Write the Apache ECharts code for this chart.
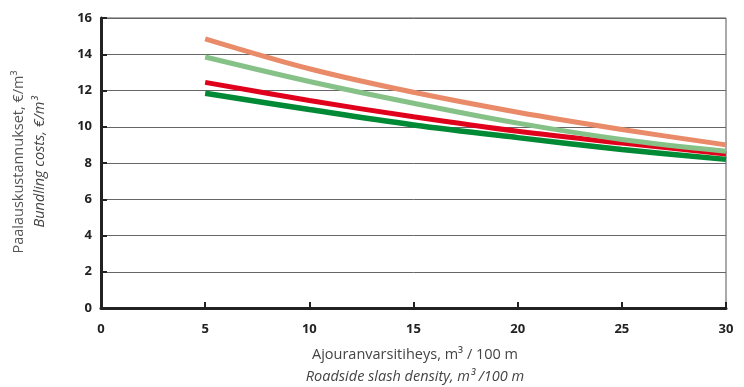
<!DOCTYPE html>
<html><head><meta charset="utf-8">
<script src="https://cdn.jsdelivr.net/npm/echarts@6/dist/echarts.min.js"></script>
<style>html,body{margin:0;padding:0;background:#fff}#c{width:744px;height:387px}</style>
</head><body><div id="c"></div>
<script>
const xValues = [5, 10, 15, 20, 25, 30];
const orangeSeries = [14.85, 13.2, 11.9, 10.8, 9.85, 9.0];
const lightGreenSeries = [13.85, 12.5, 11.3, 10.2, 9.3, 8.65];
const redSeries = [12.45, 11.45, 10.55, 9.75, 9.1, 8.5];
const darkGreenSeries = [11.85, 10.95, 10.1, 9.4, 8.75, 8.2];
const yTitle1 = 'Paalauskustannukset, €/m³';
const yTitle2 = 'Bundling costs, €/m³';
const xTitle1 = 'Ajouranvarsitiheys, m³ / 100 m';
const xTitle2 = 'Roadside slash density, m³ /100 m';

const pair = arr => xValues.map((x, i) => [x, arr[i]]);
const mk = (data, color, w) => ({type:'line', data: pair(data), smooth: 0.35, symbol:'none',
  lineStyle:{color, width:w}, itemStyle:{color}});
const font = '"Open Sans", "Noto Sans", sans-serif';
const chart = echarts.init(document.getElementById('c'));
chart.setOption({
  animation:false,
  grid:{left:101, right:18, top:18, bottom:79, show:true, borderColor:'#555', borderWidth:1},
  xAxis:{type:'value', min:0, max:30, interval:5,
    axisLine:{lineStyle:{color:'#222', width:3}},
    axisTick:{inside:true, length:6, lineStyle:{color:'#222', width:2}},
    axisLabel:{color:'#222', fontWeight:'bold', fontSize:13, margin:15, fontFamily:font},
    splitLine:{show:false}},
  yAxis:{type:'value', min:0, max:16, interval:2,
    axisLine:{show:true, lineStyle:{color:'#222', width:3}},
    axisTick:{show:true, inside:true, length:6, lineStyle:{color:'#222', width:2}},
    axisLabel:{color:'#222', fontWeight:'bold', fontSize:13, margin:9, fontFamily:font},
    splitLine:{lineStyle:{color:'#666', width:1}}},
  series:[mk(darkGreenSeries,'#008A35',5.5), mk(redSeries,'#E0001B',5), mk(lightGreenSeries,'#86C287',5), mk(orangeSeries,'#E98A69',5)],
  graphic:[
    {type:'text', x:19, y:162, rotation:Math.PI/2, style:{text:yTitle1, font:'14.5px '+font, fill:'#555', align:'center', verticalAlign:'middle'}},
    {type:'text', x:40, y:162, rotation:Math.PI/2, style:{text:yTitle2, font:'italic 14.5px '+font, fill:'#444', align:'center', verticalAlign:'middle'}},
    {type:'text', x:415, y:355, style:{text:xTitle1, font:'14.5px '+font, fill:'#444', align:'center', verticalAlign:'middle'}},
    {type:'text', x:415, y:377, style:{text:xTitle2, font:'italic 14.5px '+font, fill:'#444', align:'center', verticalAlign:'middle'}}
  ]
});
</script></body></html>
